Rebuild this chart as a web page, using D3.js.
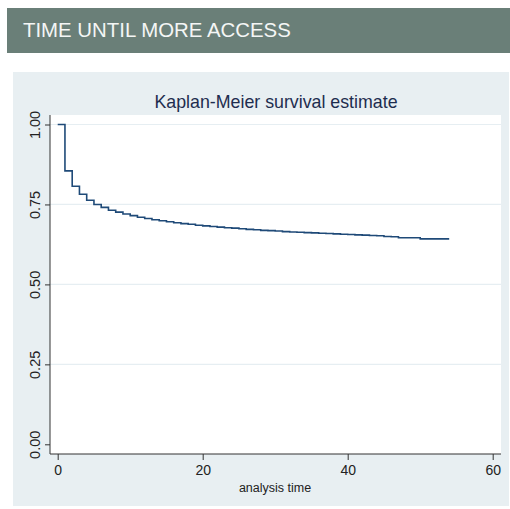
<!DOCTYPE html>
<html>
<head>
<meta charset="utf-8">
<script src="https://cdn.jsdelivr.net/npm/d3@7"></script>
<style>
  body { margin: 0; background: #fff; }
  svg { display: block; font-family: "Liberation Sans", Arial, sans-serif; }
</style>
</head>
<body>
<svg width="510" height="509"></svg>
<script>
// step times (months) and survival estimate after each step
var times = [0, 1, 2, 3, 4, 5, 6, 7, 8, 9, 10, 11, 12, 13, 14, 15, 16, 17, 18, 19,
             20, 21, 22, 23, 24, 25, 26, 27, 28, 29, 30, 31, 32, 33, 34, 35, 36, 37,
             38, 39, 40, 41, 42, 43, 44, 45, 46, 47, 50, 54];
var survival = [1.000, 0.855, 0.807, 0.782, 0.763, 0.750, 0.741, 0.732, 0.726, 0.720,
                0.715, 0.710, 0.706, 0.702, 0.699, 0.696, 0.693, 0.690, 0.688, 0.685,
                0.683, 0.681, 0.679, 0.677, 0.676, 0.674, 0.672, 0.671, 0.669, 0.668,
                0.667, 0.665, 0.664, 0.663, 0.662, 0.661, 0.660, 0.659, 0.658, 0.657,
                0.656, 0.655, 0.654, 0.653, 0.652, 0.650, 0.649, 0.646, 0.6425, 0.6425];
var xTicks = [0, 20, 40, 60];
var yTicks = [0, 0.25, 0.5, 0.75, 1];

var svg = d3.select("svg");

// header bar
svg.append("rect")
    .attr("x", 7).attr("y", 8)
    .attr("width", 503).attr("height", 45)
    .attr("fill", "#6a7f78");
svg.append("text")
    .attr("x", 23).attr("y", 37)
    .attr("fill", "#f4f6f5")
    .attr("font-size", 20.4)
    .text("TIME UNTIL MORE ACCESS");

// graph region (stata style light blue-grey)
svg.append("rect")
    .attr("x", 13).attr("y", 72)
    .attr("width", 496).attr("height", 434)
    .attr("fill", "#e8eff2");

var plot = {left: 50, right: 501, top: 115, bottom: 454};
svg.append("rect")
    .attr("x", plot.left).attr("y", plot.top)
    .attr("width", plot.right - plot.left).attr("height", plot.bottom - plot.top)
    .attr("fill", "#fff");

var x = d3.scaleLinear().domain([0, 60]).range([57.7, 492.7]);
var y = d3.scaleLinear().domain([0, 1]).range([444.3, 124.5]);

// gridlines
svg.append("g")
    .selectAll("line")
    .data(yTicks.filter(function(d) { return d > 0; }))
    .enter().append("line")
    .attr("x1", plot.left).attr("x2", plot.right)
    .attr("y1", function(d) { return y(d); })
    .attr("y2", function(d) { return y(d); })
    .attr("stroke", "#e6eef2")
    .attr("stroke-width", 1.2);

// y axis
var yAxis = svg.append("g")
    .attr("transform", "translate(" + plot.left + ",0)")
    .call(d3.axisLeft(y).tickValues(yTicks).tickSize(5).tickPadding(10)
        .tickFormat(d3.format(".2f")));
yAxis.select(".domain").attr("d", "M0," + plot.top + "V" + plot.bottom).attr("stroke", "#333");
yAxis.selectAll(".tick line").attr("stroke", "#333");
yAxis.selectAll(".tick text")
    .attr("transform", "rotate(-90)")
    .attr("x", 0).attr("y", -10)
    .attr("dy", 0)
    .attr("text-anchor", "middle")
    .attr("font-size", 14.5)
    .attr("font-family", "Liberation Sans, Arial, sans-serif")
    .attr("fill", "#222");

// x axis
var xAxis = svg.append("g")
    .attr("transform", "translate(0," + plot.bottom + ")")
    .call(d3.axisBottom(x).tickValues(xTicks).tickSize(6).tickPadding(5));
xAxis.select(".domain").attr("d", "M" + plot.left + ",0H" + plot.right).attr("stroke", "#333");
xAxis.selectAll(".tick line").attr("stroke", "#333");
xAxis.selectAll(".tick text")
    .attr("font-size", 14)
    .attr("font-family", "Liberation Sans, Arial, sans-serif")
    .attr("fill", "#222");

svg.append("text")
    .attr("x", 275).attr("y", 492)
    .attr("text-anchor", "middle")
    .attr("font-size", 12.5)
    .attr("fill", "#222")
    .text("analysis time");

svg.append("text")
    .attr("x", 276).attr("y", 108)
    .attr("text-anchor", "middle")
    .attr("font-size", 17.8)
    .attr("fill", "#1e2d4f")
    .text("Kaplan-Meier survival estimate");

// KM step curve: value holds until next event time, then drops
var data = times.map(function(t, i) { return {t: t, s: survival[i]}; });
var line = d3.line()
    .x(function(d) { return x(d.t); })
    .y(function(d) { return y(d.s); })
    .curve(d3.curveStepAfter);

svg.append("path")
    .datum(data)
    .attr("d", line)
    .attr("fill", "none")
    .attr("stroke", "#1f4a78")
    .attr("stroke-width", 1.6);
</script>
</body>
</html>
